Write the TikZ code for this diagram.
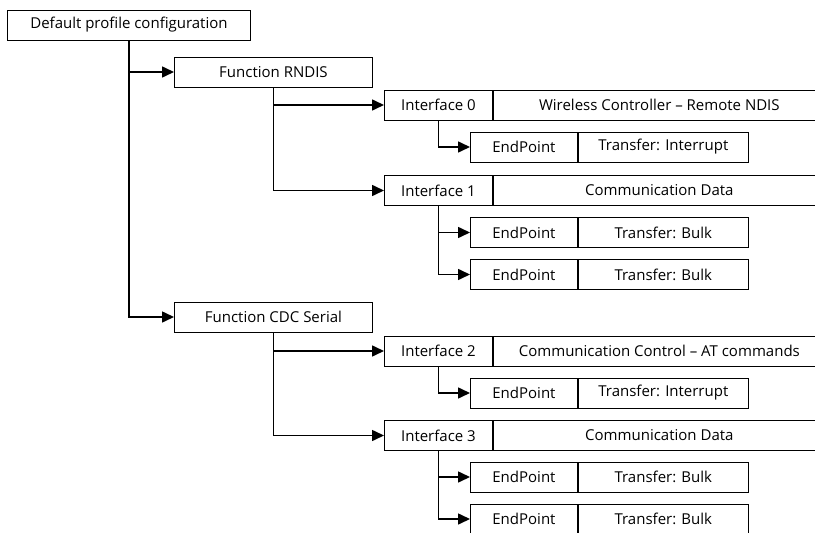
\documentclass[tikz,border=0pt]{standalone}
\usepackage{fontspec}
\setmainfont{Open Sans}
\usetikzlibrary{arrows.meta}

\tikzset{
  cell/.style={draw, line width=0.9pt, minimum height=30, inner sep=0pt, anchor=west,
    font=\fontsize{15}{17}\selectfont},
  link/.style={line width=1.6pt, -{Triangle[length=12,width=11]}},
}

\begin{document}
\begin{tikzpicture}[x=1pt,y=-1pt]
  \useasboundingbox (0,0) rectangle (815,533);
  \clip (0,0) rectangle (815,533);
  % configuration and functions
  \node[cell, minimum width=243] (cfg) at (7,25) {Default profile configuration};
  \node[cell, minimum width=198] (rndis) at (174,72) {Function RNDIS};
  \node[cell, minimum width=198] (cdc) at (174,317) {Function CDC Serial};
  % interfaces
  \foreach \name/\y/\num/\desc in {if0/105/0/Wireless Controller -- Remote NDIS,
      if1/190.5/1/Communication Data, if2/351/2/Communication Control -- AT commands,
      if3/435.5/3/Communication Data} {
    \node[cell, minimum width=108] (\name) at (384,\y) {Interface \num};
    \node[cell, minimum width=332] (\name-d) at (\name.east) {\desc};
  }
  % endpoints
  \foreach \name/\y/\kind in {ep0/147/Interrupt, ep1/232.5/Bulk, ep2/274.5/Bulk,
      ep3/393/Interrupt, ep4/477/Bulk, ep5/519/Bulk} {
    \node[cell, minimum width=107] (\name) at (470,\y) {EndPoint};
    \node[cell, minimum width=170] (\name-t) at (\name.east) {Transfer: \kind};
  }
  % tree links
  \foreach \from/\to in {cfg/rndis, cfg/cdc, rndis/if0, rndis/if1, cdc/if2, cdc/if3,
      if0/ep0, if1/ep1, if1/ep2, if2/ep3, if3/ep4, if3/ep5}
    \draw[link] (\from.south) |- (\to.west);
\end{tikzpicture}
\end{document}
